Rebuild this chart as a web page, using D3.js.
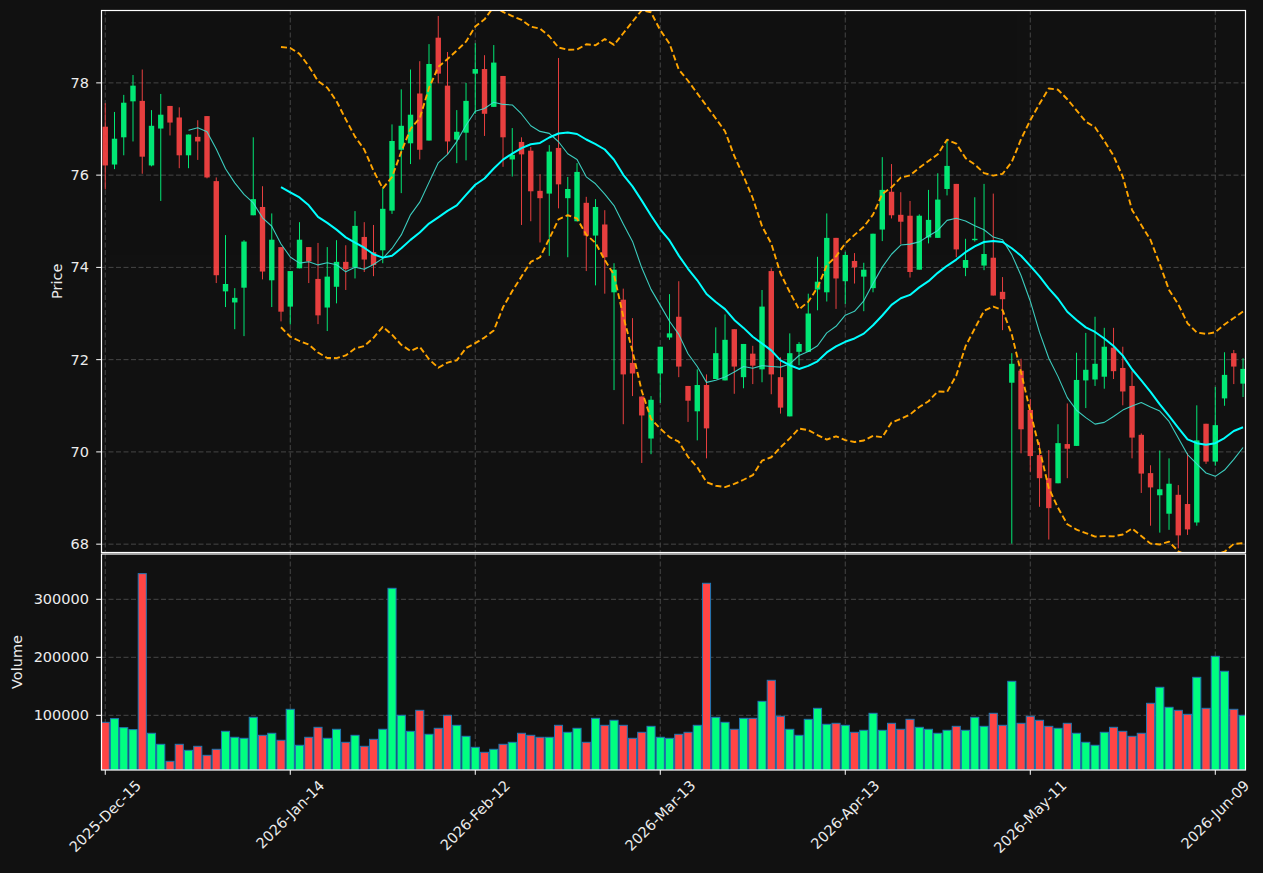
<!DOCTYPE html>
<html>
<head>
<meta charset="utf-8">
<script src="https://cdn.jsdelivr.net/npm/d3@7"></script>
<style>
html, body { margin: 0; padding: 0; background: #111111; }
svg { display: block; }
text { font-family: "DejaVu Sans", sans-serif; }
</style>
</head>
<body>
<svg id="chart" width="1263" height="873"></svg>
<script>
// ---------------- DATA ----------------
const startDate = "2025-12-15";
const holidays = ["2025-12-25", "2026-01-01", "2026-01-19", "2026-02-16", "2026-04-03", "2026-05-25"];

const openP = [
  77.05, 76.23, 76.82, 77.60, 77.61, 76.21, 77.01, 77.50, 77.25, 76.43,
  76.83, 77.28, 75.87, 73.48, 73.24, 73.56, 75.13, 75.31, 73.72, 74.44,
  73.15, 73.98, 74.44, 73.75, 73.13, 73.58, 74.12, 74.00, 74.66, 74.33,
  74.37, 75.23, 76.55, 76.69, 77.77, 76.75, 78.98, 77.94, 76.77, 76.92,
  78.20, 78.30, 77.48, 78.15, 76.34, 76.72, 76.53, 75.66, 75.60, 76.59,
  75.50, 75.00, 75.40, 74.69, 74.93, 73.46, 73.30, 71.93, 71.20, 70.29,
  71.70, 72.48, 72.93, 71.43, 70.88, 71.45, 71.58, 71.55, 72.66, 71.62,
  72.13, 71.79, 73.92, 71.62, 70.77, 72.17, 72.17, 73.52, 73.46, 74.64,
  73.70, 74.14, 73.80, 73.55, 74.82, 75.64, 75.14, 75.12, 73.95, 74.65,
  74.64, 75.70, 75.81, 73.99, 74.59, 74.04, 74.21, 73.47, 71.50, 71.76,
  70.91, 69.93, 69.43, 69.32, 70.17, 70.13, 71.55, 71.57, 71.63, 72.26,
  71.82, 71.43, 70.37, 69.54, 69.06, 68.66, 69.07, 68.87, 68.47, 70.61,
  69.79, 71.16, 72.14, 71.48
];
const highP = [
  77.56, 77.37, 77.74, 78.17, 78.29, 77.41, 77.76, 77.50, 77.47, 76.88,
  77.19, 77.28, 75.95, 74.70, 73.55, 74.59, 76.82, 75.76, 75.17, 74.44,
  73.92, 74.98, 74.44, 74.53, 74.44, 74.59, 74.48, 75.22, 74.98, 74.92,
  75.72, 77.10, 77.86, 78.29, 78.47, 78.84, 79.45, 78.67, 77.41, 78.00,
  78.86, 78.60, 78.82, 78.15, 77.02, 76.82, 76.61, 76.02, 76.65, 78.54,
  75.96, 76.26, 75.53, 75.48, 75.24, 74.09, 73.54, 72.90, 71.20, 71.21,
  72.28, 73.42, 73.70, 71.43, 71.79, 71.68, 72.70, 72.98, 72.66, 72.34,
  72.30, 73.51, 73.98, 72.05, 72.57, 72.38, 73.43, 74.23, 75.17, 74.64,
  74.34, 74.31, 74.10, 74.73, 76.39, 76.24, 75.63, 75.44, 75.15, 75.68,
  76.04, 76.76, 75.81, 74.62, 75.52, 75.81, 75.60, 73.79, 72.14, 72.02,
  71.15, 70.21, 70.04, 70.60, 71.05, 72.15, 72.58, 72.93, 72.69, 72.69,
  72.28, 71.75, 70.40, 69.71, 70.03, 69.86, 69.28, 69.98, 71.01, 70.61,
  71.41, 72.16, 72.21, 72.03
];
const lowP = [
  75.69, 76.13, 76.43, 76.73, 76.03, 76.19, 75.44, 76.86, 76.15, 76.15,
  76.33, 75.93, 73.66, 73.14, 72.66, 72.51, 75.13, 73.74, 73.14, 72.83,
  72.76, 73.98, 73.66, 72.77, 72.62, 73.22, 73.51, 73.76, 73.90, 73.81,
  74.09, 75.16, 75.61, 76.24, 76.34, 76.75, 77.99, 76.45, 76.26, 76.32,
  77.33, 76.85, 77.48, 76.18, 75.97, 74.92, 75.00, 74.54, 74.25, 75.28,
  74.22, 75.00, 73.92, 73.61, 73.43, 71.34, 70.60, 71.21, 69.76, 69.95,
  71.06, 72.43, 71.62, 70.65, 70.25, 69.86, 71.58, 71.55, 71.26, 71.38,
  71.47, 71.51, 71.25, 70.83, 70.77, 71.88, 72.17, 73.07, 73.26, 73.10,
  73.21, 73.65, 73.05, 73.46, 74.57, 75.06, 74.50, 73.78, 73.95, 74.52,
  74.64, 75.56, 74.22, 73.81, 74.56, 73.94, 73.39, 72.64, 68.01, 69.97,
  69.57, 68.81, 68.10, 69.32, 69.43, 70.13, 70.95, 71.43, 71.37, 71.58,
  71.01, 69.86, 69.11, 68.40, 68.25, 68.31, 67.91, 68.20, 68.40, 69.74,
  69.70, 71.00, 71.47, 71.19
];
const closeP = [
  76.21, 76.79, 77.57, 77.94, 76.40, 77.07, 77.31, 77.14, 76.43, 76.88,
  76.73, 75.95, 73.83, 73.64, 73.34, 74.56, 75.48, 73.91, 74.60, 73.04,
  73.92, 74.60, 74.13, 72.96, 73.80, 74.12, 73.96, 74.90, 74.17, 74.05,
  75.27, 76.74, 77.07, 77.31, 76.55, 78.41, 78.20, 76.73, 76.94, 77.61,
  78.30, 77.33, 78.44, 76.82, 76.44, 76.45, 75.65, 75.50, 76.51, 75.80,
  75.70, 76.07, 74.69, 75.31, 74.22, 73.95, 71.68, 71.70, 70.79, 71.13,
  72.28, 72.57, 71.85, 71.11, 71.45, 70.51, 72.14, 72.43, 71.85, 72.34,
  71.87, 73.15, 71.68, 70.96, 72.14, 72.34, 73.00, 73.69, 74.64, 73.76,
  74.27, 74.00, 73.95, 74.73, 75.68, 75.13, 74.99, 73.90, 75.12, 75.03,
  75.47, 76.20, 74.39, 74.16, 74.62, 74.29, 73.39, 73.31, 71.91, 70.49,
  69.91, 69.43, 68.78, 70.19, 70.07, 71.56, 71.78, 71.91, 72.28, 71.75,
  71.31, 70.31, 69.53, 69.23, 69.19, 69.31, 68.19, 68.32, 70.25, 69.79,
  70.58, 71.67, 71.85, 71.80
];
const volume = [
  87900, 94250, 78700, 75300, 344250, 69000, 50000, 20700, 50000, 39650,
  46550, 31000, 41400, 72400, 62100, 60350, 96550, 65500, 69000, 56900,
  110350, 48300, 62100, 79300, 60350, 75900, 53450, 65500, 46550, 58600,
  75900, 318950, 100000, 72400, 108600, 67250, 77600, 100000, 82750, 63800,
  44800, 36200, 41400, 50000, 53450, 69000, 65500, 62100, 62100, 82750,
  70700, 77600, 53450, 94800, 82750, 91400, 82750, 60350, 70700, 81000,
  62100, 60350, 67250, 70700, 82750, 327600, 96550, 87900, 75900, 94800,
  94800, 124100, 160350, 98300, 75900, 65500, 93100, 112050, 84500, 86200,
  82750, 70700, 74150, 103450, 74150, 86200, 75900, 93100, 79300, 75900,
  69000, 74150, 81000, 74150, 96550, 81000, 103450, 82750, 158600, 86200,
  98300, 91400, 81000, 77600, 86200, 69000, 53450, 48300, 70700, 79300,
  72400, 63800, 69000, 120700, 148300, 113800, 108600, 101700, 165500, 112050,
  201700, 175900, 110350, 100000
];
const priceTicks = [68, 70, 72, 74, 76, 78];
const volumeTicks = [100000, 200000, 300000];
const dateTickIndex = [0, 20, 40, 60, 80, 100, 120];

// ---------------- DERIVED ----------------
const parse = d3.timeParse("%Y-%m-%d"), keyFmt = d3.timeFormat("%Y-%m-%d");
const dates = [];
let cur = parse(startDate);
while (dates.length < closeP.length) {
  const wd = cur.getDay();
  if (wd !== 0 && wd !== 6 && !holidays.includes(keyFmt(cur))) dates.push(new Date(cur));
  cur = d3.timeDay.offset(cur, 1);
}
const tickFmt = d3.timeFormat("%Y-%b-%d");

function sma(arr, n) {
  return arr.map((_, i) => i < n - 1 ? null : d3.mean(arr.slice(i - n + 1, i + 1)));
}
function band(arr, n, k, sign) {
  return arr.map((_, i) => {
    if (i < n - 1) return null;
    const w = arr.slice(i - n + 1, i + 1), m = d3.mean(w);
    const sd = Math.sqrt(d3.mean(w, v => (v - m) * (v - m)));
    return m + sign * k * sd;
  });
}
const ma10 = sma(closeP, 10), ma20 = sma(closeP, 20);
const bbUp = band(closeP, 20, 2, 1), bbLo = band(closeP, 20, 2, -1);

// ---------------- LAYOUT ----------------
const L = 101, R = 1246;
const pTop = 10, pBot = 552.5, vTop = 554, vBot = 770;
const UP = "#00ff80", DOWN = "#ff4545";
const GRID = "#464646", FG = "#ececec";
const FS = 14.5;

const svg = d3.select("#chart");
svg.append("rect").attr("width", 1263).attr("height", 873).attr("fill", "#111111");

const x = d3.scaleLinear().domain([-0.46, 123.32]).range([L, R]);
const y = d3.scaleLinear().domain([67.83, 79.58]).range([552, 10]);
const vy = d3.scaleLinear().domain([5690, 378100]).range([vBot, vTop]);

const defs = svg.append("defs");
defs.append("clipPath").attr("id", "clipP").append("rect")
  .attr("x", L).attr("y", pTop).attr("width", R - L).attr("height", pBot - pTop);
defs.append("clipPath").attr("id", "clipV").append("rect")
  .attr("x", L).attr("y", vTop).attr("width", R - L).attr("height", vBot - vTop);

// grids
const gp = svg.append("g").attr("clip-path", "url(#clipP)");
const gv = svg.append("g").attr("clip-path", "url(#clipV)");
[gp, gv].forEach((g, k) => {
  const top = k === 0 ? pTop : vTop, bot = k === 0 ? pBot : vBot;
  g.selectAll("line.vg").data(dateTickIndex).join("line")
    .attr("x1", d => x(d)).attr("x2", d => x(d)).attr("y1", top).attr("y2", bot)
    .attr("stroke", GRID).attr("stroke-width", 1).attr("stroke-dasharray", "5,2.5");
});
gp.selectAll("line.hg").data(priceTicks).join("line")
  .attr("x1", L).attr("x2", R).attr("y1", d => y(d)).attr("y2", d => y(d))
  .attr("stroke", GRID).attr("stroke-width", 1).attr("stroke-dasharray", "5,2.5");
gv.selectAll("line.hg").data(volumeTicks).join("line")
  .attr("x1", L).attr("x2", R).attr("y1", d => vy(d)).attr("y2", d => vy(d))
  .attr("stroke", GRID).attr("stroke-width", 1).attr("stroke-dasharray", "5,2.5");

// candles
const idx = d3.range(closeP.length);
const bw = 5.4;
const cg = gp.append("g").attr("opacity", 0.9);
cg.selectAll("line.wick").data(idx).join("line")
  .attr("x1", i => x(i)).attr("x2", i => x(i))
  .attr("y1", i => y(highP[i])).attr("y2", i => y(lowP[i]))
  .attr("stroke", i => closeP[i] >= openP[i] ? UP : DOWN).attr("stroke-width", 1);
cg.selectAll("rect.body").data(idx).join("rect")
  .attr("x", i => x(i) - bw / 2).attr("width", bw)
  .attr("y", i => y(Math.max(openP[i], closeP[i])))
  .attr("height", i => Math.max(1, Math.abs(y(openP[i]) - y(closeP[i]))))
  .attr("fill", i => closeP[i] >= openP[i] ? UP : DOWN);

// overlays
function drawLine(data, color, width, dash, op) {
  gp.append("path").datum(idx)
    .attr("d", d3.line().defined(i => data[i] != null).x(i => x(i)).y(i => y(data[i])))
    .attr("fill", "none").attr("stroke", color).attr("stroke-width", width)
    .attr("stroke-dasharray", dash).attr("opacity", op)
    .attr("stroke-linejoin", "round");
}
drawLine(ma10, "#40e0d0", 1.1, null, 0.9);
drawLine(ma20, "#00ffff", 2, null, 1);
drawLine(bbUp, "#ffa500", 1.9, "6,3", 1);
drawLine(bbLo, "#ffa500", 1.9, "6,3", 1);

// volume bars
const vw = 8.1;
gv.selectAll("rect.vol").data(idx).join("rect")
  .attr("x", i => x(i) - vw / 2).attr("width", vw)
  .attr("y", i => vy(volume[i])).attr("height", i => vBot - vy(volume[i]))
  .attr("fill", i => closeP[i] >= openP[i] ? UP : DOWN)
  .attr("stroke", "#1f77b4").attr("stroke-width", 1);

// spines
svg.append("rect").attr("x", L + 0.5).attr("y", pTop + 0.5).attr("width", R - L - 1).attr("height", pBot - pTop - 0.5)
  .attr("fill", "none").attr("stroke", "#ffffff").attr("stroke-width", 1.2);
svg.append("rect").attr("x", L + 0.5).attr("y", vTop).attr("width", R - L - 1).attr("height", vBot - vTop)
  .attr("fill", "none").attr("stroke", "#ffffff").attr("stroke-width", 1.2);

// y ticks price
const pt = svg.append("g");
pt.selectAll("line").data(priceTicks).join("line")
  .attr("x1", L - 4.8).attr("x2", L).attr("y1", d => y(d)).attr("y2", d => y(d))
  .attr("stroke", "#ffffff").attr("stroke-width", 1);
pt.selectAll("text").data(priceTicks).join("text")
  .attr("x", L - 12).attr("y", d => y(d)).attr("dy", "0.35em")
  .attr("text-anchor", "end").attr("fill", FG).attr("font-size", FS).text(d => d);
// y ticks volume
const vt = svg.append("g");
vt.selectAll("line").data(volumeTicks).join("line")
  .attr("x1", L - 4.8).attr("x2", L).attr("y1", d => vy(d)).attr("y2", d => vy(d))
  .attr("stroke", "#ffffff").attr("stroke-width", 1);
vt.selectAll("text").data(volumeTicks).join("text")
  .attr("x", L - 12).attr("y", d => vy(d)).attr("dy", "0.35em")
  .attr("text-anchor", "end").attr("fill", FG).attr("font-size", FS).text(d => d);

// axis titles
svg.append("text").attr("transform", `translate(62,${(pTop + pBot) / 2}) rotate(-90)`)
  .attr("text-anchor", "middle").attr("fill", FG).attr("font-size", FS).text("Price");
svg.append("text").attr("transform", `translate(22,${(vTop + vBot) / 2}) rotate(-90)`)
  .attr("text-anchor", "middle").attr("fill", FG).attr("font-size", FS).text("Volume");

// x ticks
const xt = svg.append("g");
xt.selectAll("line").data(dateTickIndex).join("line")
  .attr("x1", d => x(d)).attr("x2", d => x(d)).attr("y1", vBot).attr("y2", vBot + 4.8)
  .attr("stroke", "#ffffff").attr("stroke-width", 1);
xt.selectAll("text").data(dateTickIndex).join("text")
  .attr("fill", FG).attr("font-size", FS)
  .attr("text-anchor", "middle").attr("dominant-baseline", "central")
  .text(d => tickFmt(dates[d]))
  .each(function (d) {
    const w = this.getComputedTextLength(), h = 17;
    const bb = (w + h) / Math.SQRT2;
    const cx = x(d), cy = 777 + bb / 2;
    d3.select(this).attr("transform", `translate(${cx},${cy}) rotate(-45)`);
  });
</script>
</body>
</html>
